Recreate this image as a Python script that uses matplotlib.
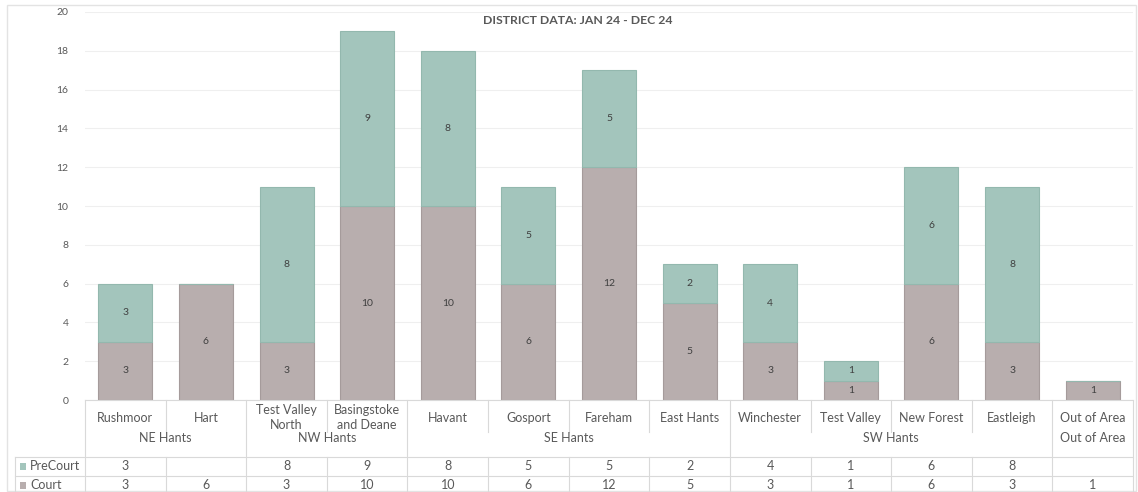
import matplotlib
matplotlib.use("Agg")
import matplotlib.pyplot as plt
import numpy as np
from matplotlib.patches import Rectangle
from matplotlib.lines import Line2D

categories = ["Rushmoor", "Hart", "Test Valley\nNorth", "Basingstoke\nand Deane", "Havant",
              "Gosport", "Fareham", "East Hants", "Winchester", "Test Valley",
              "New Forest", "Eastleigh", "Out of Area"]
group_names = ["NE Hants", "NW Hants", "SE Hants", "SW Hants", "Out of Area"]
group_sizes = [2, 2, 4, 4, 1]
court = [3, 6, 3, 10, 10, 6, 12, 5, 3, 1, 6, 3, 1]
precourt = [3, None, 8, 9, 8, 5, 5, 2, 4, 1, 6, 8, None]
title = "DISTRICT DATA: JAN 24 - DEC 24"
yticks = [0, 2, 4, 6, 8, 10, 12, 14, 16, 18, 20]

FONT = "Lato"
plt.rcParams['font.family'] = [FONT, 'DejaVu Sans']
TXT = "#595959"
TEAL = "#a3c5bc"
TEAL_E = "#93b8ae"
GRAY = "#b8aeae"
GRAY_E = "#a59b9b"
LINE = "#d9d9d9"

W, H = 1138, 492
fig = plt.figure(figsize=(W / 100, H / 100), dpi=100)

x0, x1 = 85, 1133
ytop, ybot = 12, 400
ax = fig.add_axes([x0 / W, (H - ybot) / H, (x1 - x0) / W, (ybot - ytop) / H])

n = len(categories)
xs = np.arange(n)
pre = np.array([0 if v is None else v for v in precourt], dtype=float)
crt = np.array(court, dtype=float)

bw = 0.67
ax.bar(xs, crt, width=bw, color=GRAY, edgecolor=GRAY_E, linewidth=0.8, zorder=3)
ax.bar(xs, pre, width=bw, bottom=crt, color=TEAL, edgecolor=TEAL_E, linewidth=0.8, zorder=3)

for i in range(n):
    if crt[i] > 0:
        ax.text(xs[i], crt[i] / 2, f"{int(crt[i])}", ha="center", va="center",
                fontsize=7.5, color="#404040", zorder=4)
    if pre[i] > 0:
        ax.text(xs[i], crt[i] + pre[i] / 2, f"{int(pre[i])}", ha="center", va="center",
                fontsize=7.5, color="#404040", zorder=4)

ax.set_xlim(-0.5, n - 0.5)
ax.set_ylim(0, 20)
ax.set_yticks(yticks)
ax.set_yticklabels([str(v) for v in yticks], fontsize=7.5, color=TXT)
ax.tick_params(axis="y", length=0, pad=12)
ax.set_xticks([])
ax.grid(axis="y", color="#efefef", linewidth=0.8, zorder=0)
for s in ["top", "right", "left", "bottom"]:
    ax.spines[s].set_visible(False)

# table drawing in figure pixel coordinates
def px(x, y):
    return x / W, (H - y) / H

def hline(xa, xb, y, c=LINE, lw=0.8):
    (fa, fy), (fb, _) = px(xa, y), px(xb, y)
    fig.add_artist(Line2D([fa, fb], [fy, fy], color=c, lw=lw, transform=fig.transFigure))

def vline(x, ya, yb, c=LINE, lw=0.8):
    (fx, fa), (_, fb) = px(x, ya), px(x, yb)
    fig.add_artist(Line2D([fx, fx], [fa, fb], color=c, lw=lw, transform=fig.transFigure))

def ftext(x, y, s, **kw):
    fx, fy = px(x, y)
    fig.text(fx, fy, s, transform=fig.transFigure, **kw)

cw = (x1 - x0) / n
tl = 15
y_tab = 400
y_cat_end = 432
y_grp_line = 457
y_pre_line = 476
y_bot = 495

hline(x0, x1, y_tab)
hline(tl, x1, y_grp_line)
hline(tl, x1, y_pre_line)
vline(x0, y_tab, y_bot)
vline(x1, y_tab, y_bot)
vline(tl, y_grp_line, y_bot)

# category row
for i, c in enumerate(categories):
    cx = x0 + (i + 0.5) * cw
    ftext(cx, 417.5, c, ha="center", va="center", fontsize=9, color=TXT, linespacing=1.3)

# dividers
bounds = np.cumsum([0] + group_sizes)
group_edges = set(bounds.tolist())
for k in range(1, n):
    xk = x0 + k * cw
    if k in group_edges:
        vline(xk, y_tab, y_bot)
    else:
        vline(xk, y_tab, y_cat_end)
        vline(xk, y_grp_line, y_bot)

for g, name in enumerate(group_names):
    a, b = bounds[g], bounds[g + 1]
    cx = x0 + (a + b) / 2 * cw
    ftext(cx, 438.5, name, ha="center", va="center", fontsize=9, color=TXT)

# data rows
rows = [("PreCourt", precourt, TEAL, 466), ("Court", court, GRAY, 485)]
for label, vals, col, yy in rows:
    sx, sy = px(20, yy + 3.5)
    fig.add_artist(Rectangle((sx, sy), 6 / W, 7 / H, transform=fig.transFigure,
                             facecolor=col, edgecolor="none"))
    ftext(30, yy, label, ha="left", va="center", fontsize=9, color=TXT)
    for i, v in enumerate(vals):
        if v is not None:
            cx = x0 + (i + 0.5) * cw
            ftext(cx, yy, str(v), ha="center", va="center", fontsize=9, color=TXT)

# chart border
bx, by = px(7, 491)
fig.add_artist(Rectangle((bx, by), (1136 - 7) / W, (491 - 5) / H, transform=fig.transFigure,
                         facecolor="none", edgecolor="#e3e3e3", lw=1.0))

ftext(578, 21, title, ha="center", va="center", fontsize=8.8, fontweight="bold", color=TXT)

fig.savefig("out.png", dpi=100)
